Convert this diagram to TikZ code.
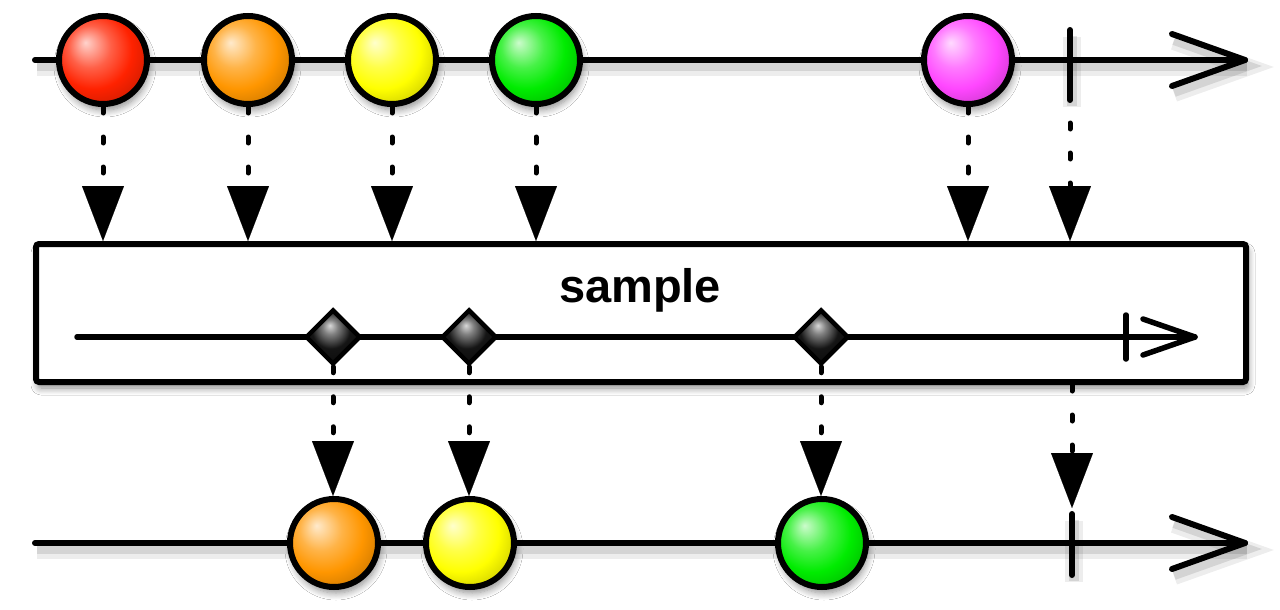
\documentclass[tikz,border=0pt]{standalone}
\usepackage{fontspec}
\setmainfont{Liberation Sans}
\usetikzlibrary{arrows.meta,shapes.geometric,shadows.blur}
\definecolor{cRed}{RGB}{255,34,0}
\definecolor{cOrange}{RGB}{255,150,0}
\definecolor{cYellow}{RGB}{255,255,0}
\definecolor{cGreen}{RGB}{0,236,0}
\definecolor{cMagenta}{RGB}{255,70,255}
\colorlet{ballc}{red}
\pgfdeclareradialshading[ballc]{glossy}{\pgfpoint{-10bp}{10bp}}{%
  color(0bp)=(ballc!20!white); color(12bp)=(ballc!72!white); color(22bp)=(ballc);
  color(30bp)=(ballc!85!black); color(38bp)=(ballc!58!black); color(50bp)=(ballc!40!black)}
\pgfdeclareradialshading{gdiam}{\pgfpoint{-3bp}{11bp}}{%
  color(0bp)=(black!15); color(7bp)=(black!50); color(18bp)=(black!92); color(50bp)=(black)}
\tikzset{
  lshadow/.style={
    preaction={draw=black, draw opacity=0.07, line width=18pt, transform canvas={shift={(2pt,-7pt)}}},
    preaction={draw=black, draw opacity=0.10, line width=10pt, transform canvas={shift={(2pt,-6pt)}}}},
  tl/.style={draw=black, line width=6pt, line cap=round, line join=round, lshadow},
  soft/.style={blur shadow={shadow xshift=2pt, shadow yshift=-6pt, shadow blur radius=7pt, shadow opacity=45, shadow blur steps=8}},
  ballnode/.style={circle, draw=black, line width=6pt, minimum size=88pt, inner sep=0pt,
    /utils/exec={\colorlet{ballc}{#1}}, shading=glossy, soft},
  gem/.style={diamond, draw=black, line width=4.5pt, inner sep=0pt, minimum width=55pt,
    minimum height=55pt, shading=gdiam},
  opbox/.style={draw=black, fill=white, line width=6pt, rounded corners=3pt, minimum width=1210pt,
    minimum height=138pt, inner sep=0pt, soft},
  dar/.style={draw=black, line width=5pt, line cap=round, dash pattern=on 6pt off 24pt,
    -{Triangle[length=55pt,width=42pt,line width=0.1pt]}},
  lbl/.style={font=\bfseries\fontsize{47}{56}\selectfont, inner sep=0pt, anchor=base}
}
\begin{document}
\begin{tikzpicture}[x=1pt,y=-1pt]
\useasboundingbox (0,0) rectangle (1280,610);
\fill[white] (0,0) rectangle (1280,610);

% ---- top timeline
\coordinate (ts) at (35,60);
\coordinate (te) at (1245,60);
\coordinate (t1a) at (1070,30);
\coordinate (t1b) at (1070,100);
\coordinate (t1s) at (1070,93);
\draw[tl] (ts) -- (te);
\draw[tl] ([shift={(-73,-26)}]te) -- (te) -- ([shift={(-73,26)}]te);
\draw[tl] (t1a) -- (t1b);

\node[ballnode=cRed] (r1) at (103,60) {};
\node[ballnode=cOrange] (r2) at (248,60) {};
\node[ballnode=cYellow] (r3) at (392,60) {};
\node[ballnode=cGreen] (r4) at (536,60) {};
\node[ballnode=cMagenta] (r5) at (968,60) {};

% ---- operator box
\node[opbox] (box) at (641,313) {};
\node[lbl] (name) at (640,302) {sample};
\coordinate (is) at (77,337);
\coordinate (ie) at (1195,337);
\coordinate (ita) at (1126,315);
\coordinate (itb) at (1126,359);
\draw[draw=black, line width=5.5pt, line cap=round, line join=round] (is) -- (ie);
\draw[draw=black, line width=5.5pt, line cap=round, line join=round]
  ([shift={(-52,-18)}]ie) -- (ie) -- ([shift={(-52,18)}]ie);
\draw[draw=black, line width=5.5pt, line cap=round] (ita) -- (itb);
\node[gem] (d1) at (333,337) {};
\node[gem] (d2) at (469,337) {};
\node[gem] (d3) at (821,337) {};

% ---- bottom timeline
\coordinate (bs) at (35,543);
\coordinate (be) at (1245,543);
\coordinate (b1a) at (1072,514);
\coordinate (b1b) at (1072,575);
\coordinate (b1t) at (1072,508);
\draw[tl] (bs) -- (be);
\draw[tl] ([shift={(-73,-26)}]be) -- (be) -- ([shift={(-73,26)}]be);
\draw[tl] (b1a) -- (b1b);

\node[ballnode=cOrange] (o1) at (334,543) {};
\node[ballnode=cYellow] (o2) at (470,543) {};
\node[ballnode=cGreen] (o3) at (822,543) {};

% ---- dotted arrows into the box
\foreach \n in {r1,r2,r3,r4,r5}
  \draw[dar] (\n.south) -- (\n.south |- box.north);
\draw[dar] (t1s) -- (t1s |- box.north);

% ---- dotted arrows out of the box
\draw[dar] (d1.south) -- (d1.south |- o1.north);
\draw[dar] (d2.south) -- (d2.south |- o2.north);
\draw[dar] (d3.south) -- (d3.south |- o3.north);
\draw[dar] (b1t |- box.south) -- (b1t);
\end{tikzpicture}
\end{document}
